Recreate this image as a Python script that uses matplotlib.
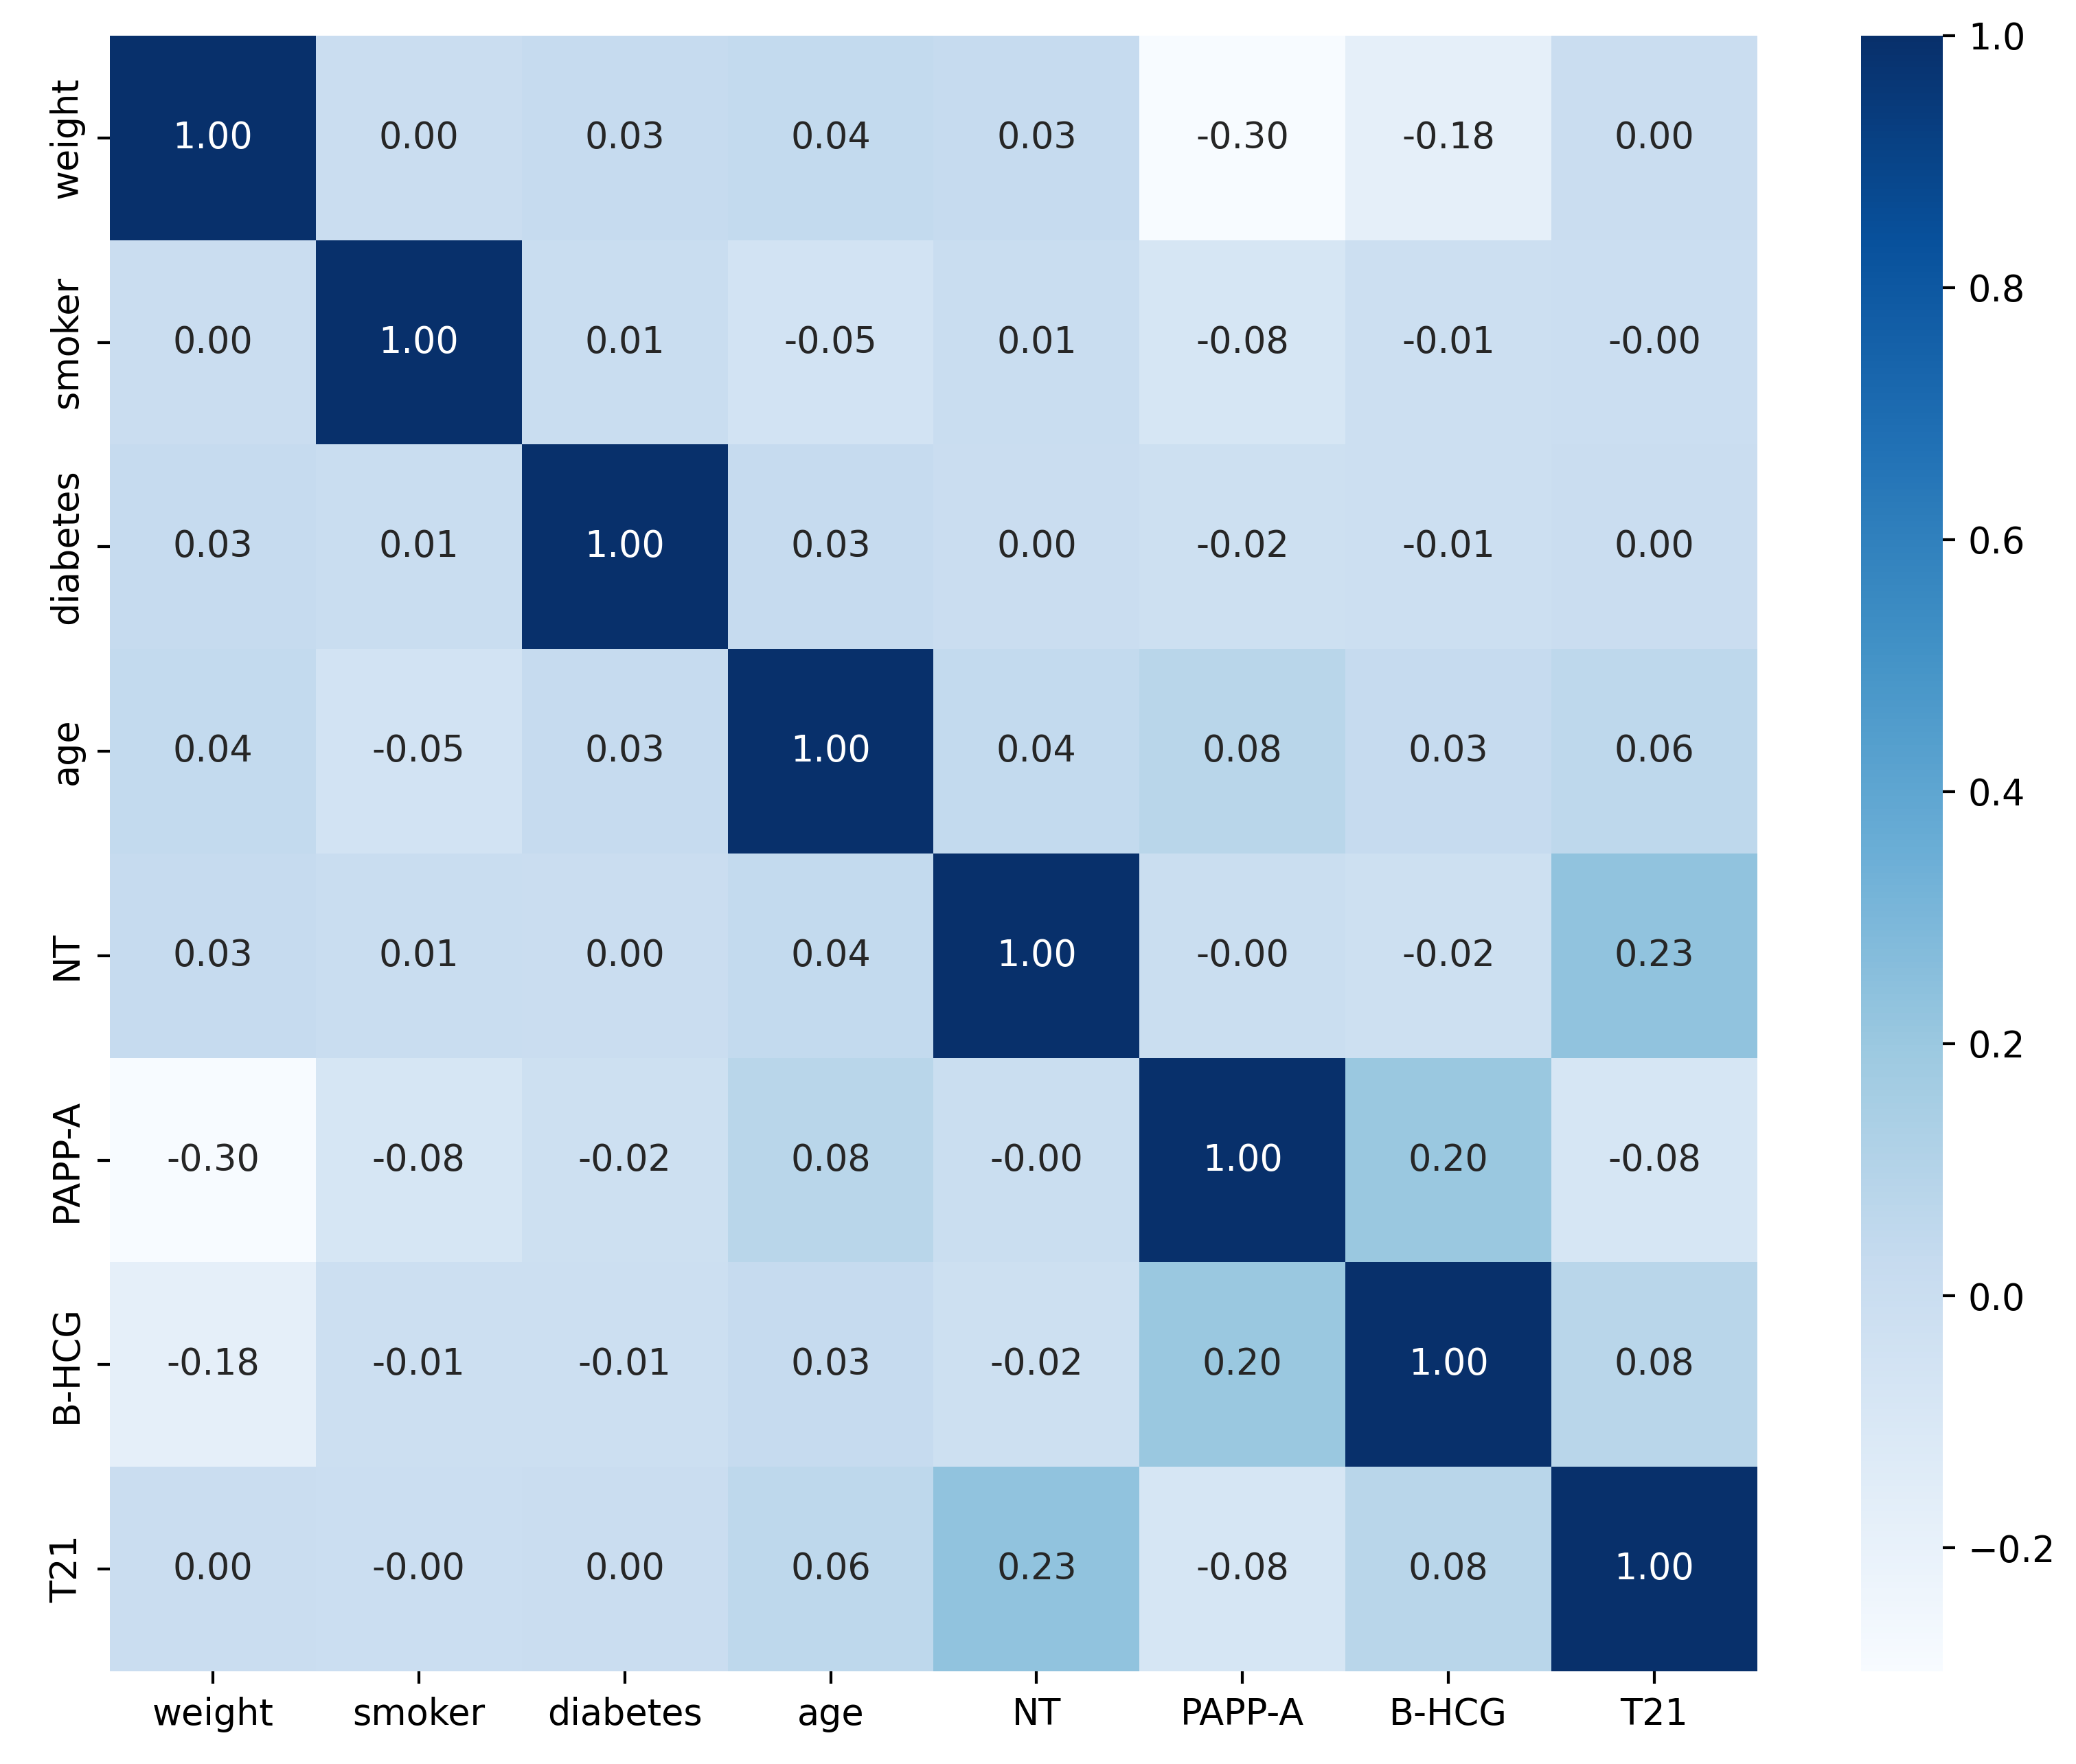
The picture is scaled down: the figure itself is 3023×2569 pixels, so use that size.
import numpy as np
import pandas as pd
import matplotlib
matplotlib.use("Agg")
import matplotlib.pyplot as plt
import seaborn as sns

# correlation matrix
labels = ["weight", "smoker", "diabetes", "age", "NT", "PAPP-A", "B-HCG", "T21"]

weight   = [1.00, 0.002, 0.03, 0.04, 0.03, -0.298, -0.18, 0.003]
smoker   = [0.002, 1.00, 0.01, -0.05, 0.01, -0.08, -0.01, -0.004]
diabetes = [0.03, 0.01, 1.00, 0.03, 0.004, -0.02, -0.01, 0.002]
age      = [0.04, -0.05, 0.03, 1.00, 0.04, 0.08, 0.03, 0.06]
nt       = [0.03, 0.01, 0.004, 0.04, 1.00, -0.003, -0.02, 0.23]
pappa    = [-0.298, -0.08, -0.02, 0.08, -0.003, 1.00, 0.20, -0.08]
bhcg     = [-0.18, -0.01, -0.01, 0.03, -0.02, 0.20, 1.00, 0.08]
t21      = [0.003, -0.004, 0.002, 0.06, 0.23, -0.08, 0.08, 1.00]

corr = pd.DataFrame([weight, smoker, diabetes, age, nt, pappa, bhcg, t21],
                    index=labels, columns=labels)

dpi = 378
fig = plt.figure(figsize=(3023 / dpi, 2569 / dpi), dpi=dpi)
ax = fig.add_axes([0.0529, 0.0526, 0.7936, 0.9272])
cax = fig.add_axes([0.8965, 0.0526, 0.0394, 0.9272])

sns.heatmap(corr, annot=True, fmt=".2f", cmap="Blues", ax=ax, cbar_ax=cax)

cax.set_yticks([-0.2, 0.0, 0.2, 0.4, 0.6, 0.8, 1.0])

fig.savefig("out.png", dpi=dpi)
